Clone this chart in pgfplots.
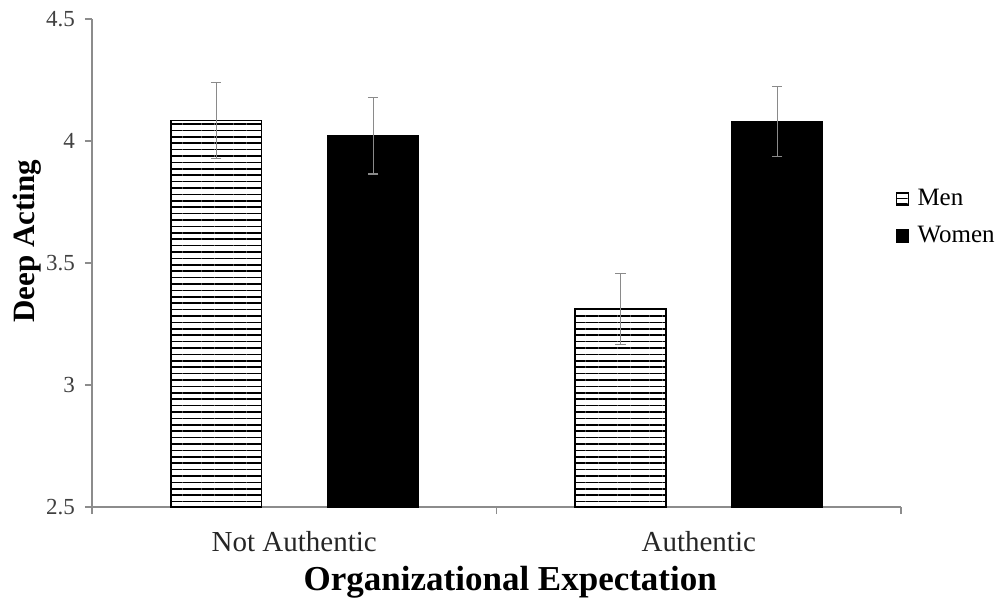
\documentclass[border=0pt]{standalone}
\usepackage{pgfplots}
\pgfplotsset{compat=1.18}
\usepackage{fontspec}
\setmainfont{Liberation Serif}
\usetikzlibrary{patterns.meta}
\definecolor{axgray}{HTML}{8C8C8C}
\definecolor{errgray}{HTML}{8A8A8A}
\definecolor{ticktext}{HTML}{404040}
\begin{document}
\begin{tikzpicture}
\path[use as bounding box] (-46pt,-48.5pt) rectangle (456.5pt,253.5pt);
\begin{axis}[
  at={(0pt,0pt)}, anchor=south west,
  width=404.5pt, height=244pt, scale only axis,
  xmin=-0.5, xmax=1.5, ymin=2.5, ymax=4.5,
  axis x line*=bottom, axis y line*=left,
  axis line style={axgray, line width=0.7pt, -},
  tick align=outside, major tick length=3.5pt,
  tick style={axgray, line width=0.7pt},
  ytick={2.5,3,3.5,4,4.5},
  yticklabels={2.5,3,3.5,4,4.5},
  yticklabel style={font=\fontsize{11.5}{13}\selectfont, text=ticktext, anchor=east, xshift=-1.5pt},
  xtick={-0.5,0.5,1.5}, xticklabels={},
  extra x ticks={0,1},
  extra x tick labels={Not Authentic, Authentic},
  extra x tick style={major tick length=0pt,
     tick label style={font=\fontsize{14.5}{16}\selectfont, text=black!85, anchor=base, yshift=-22.3pt}},
  xlabel={\textbf{Organizational Expectation}},
  xlabel style={font=\fontsize{17.5}{20}\selectfont, at={(axis description cs:0.517,0)}, anchor=base, yshift=-41.5pt},
  ylabel={\textbf{Deep Acting}},
  ylabel style={font=\fontsize{15.5}{18}\selectfont, at={(axis description cs:-0.08,0.545)}, anchor=center},
  legend style={at={(rel axis cs:0.993,0.593)}, anchor=west, draw=none, fill=none,
     font=\fontsize{12.5}{14}\selectfont, row sep=5pt, inner sep=0pt,
     /tikz/every even column/.append style={column sep=0pt}},
  legend cell align=left,
  clip=false,
]
\addplot[ybar, bar width=0.224, bar shift=0pt, draw=black, line width=0.9pt,
  pattern={Lines[angle=0,distance=3.2pt,line width=0.75pt]},
  legend image code/.code={\draw[line width=0.8pt, pattern={Lines[angle=0,distance=2.6pt,line width=0.7pt]}] (0pt,-3pt) rectangle (6pt,3pt);},
  error bars/.cd, y dir=both, y explicit,
  error bar style={errgray, line width=0.6pt},
  error mark options={rotate=90, errgray, mark size=2.6pt, line width=0.6pt}]
  coordinates {(-0.193,4.084) +- (0,0.157) (0.807,3.311) +- (0,0.146)};
\addlegendentry{\,Men}
\addplot[ybar, bar width=0.224, bar shift=0pt, draw=black, fill=black, line width=0.9pt,
  legend image code/.code={\draw[line width=0.8pt, fill=black] (0pt,-3pt) rectangle (6pt,3pt);},
  error bars/.cd, y dir=both, y explicit,
  error bar style={errgray, line width=0.6pt},
  error mark options={rotate=90, errgray, mark size=2.6pt, line width=0.6pt}]
  coordinates {(0.195,4.022) +- (0,0.157) (1.194,4.08) +- (0,0.144)};
\addlegendentry{\,Women}
\end{axis}
\end{tikzpicture}
\end{document}
